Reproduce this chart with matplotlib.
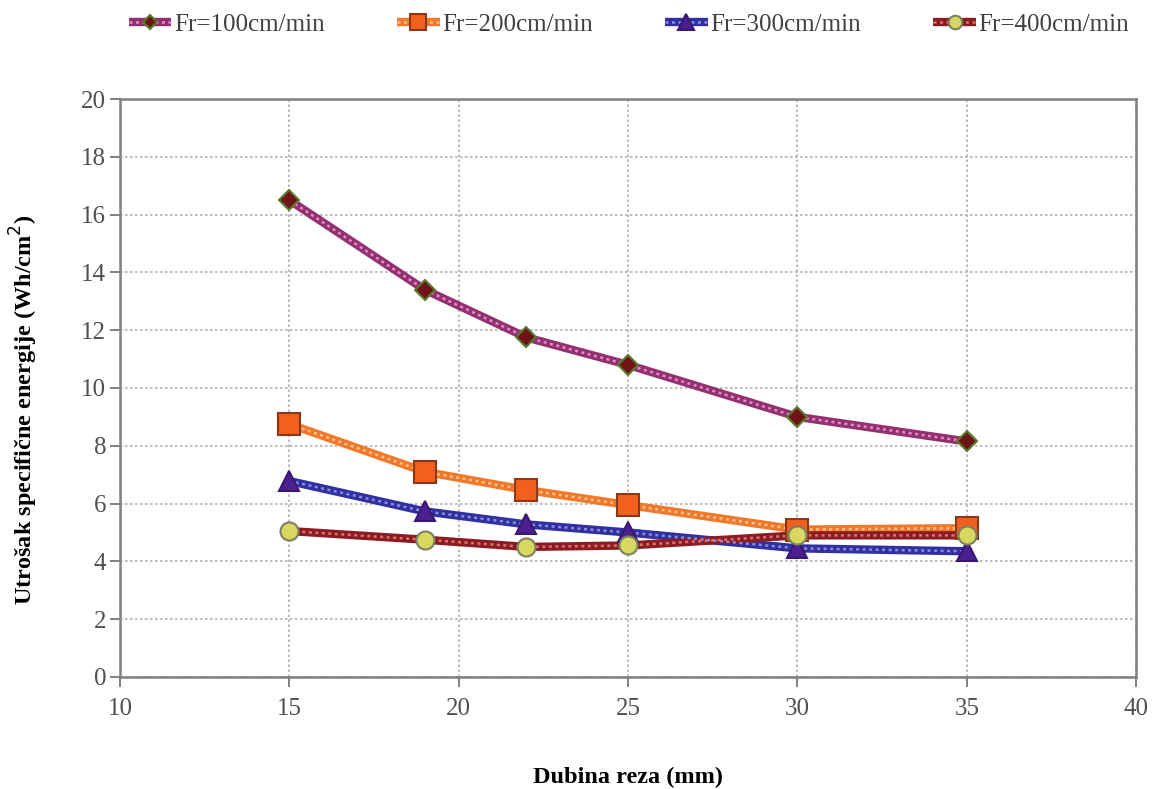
import matplotlib
matplotlib.use("Agg")
import matplotlib.pyplot as plt
from matplotlib.legend_handler import HandlerTuple

plt.rcParams['font.family'] = ['Liberation Serif', 'DejaVu Serif']

depth = [15, 19, 22, 25, 30, 35]
fr100 = [16.5, 13.4, 11.75, 10.8, 9.0, 8.15]
fr200 = [8.75, 7.1, 6.47, 5.95, 5.1, 5.15]
fr300 = [6.78, 5.73, 5.28, 5.0, 4.45, 4.35]
fr400 = [5.05, 4.75, 4.5, 4.55, 4.9, 4.9]
labels = ['Fr=100cm/min', 'Fr=200cm/min', 'Fr=300cm/min', 'Fr=400cm/min']

styles = [
    dict(line='#93306f', over='#e48ac8', marker='D', mfc='#6e1414', mec='#5a7a30', ms=10),
    dict(line='#f0782a', over='#ffc08a', marker='s', mfc='#f2601e', mec='#8a3a18', ms=16),
    dict(line='#3030a0', over='#8a8ae0', marker='^', mfc='#4a2090', mec='#3a1870', ms=15),
    dict(line='#8a1c22', over='#e07070', marker='o', mfc='#d8d860', mec='#7a8060', ms=13),
]

fig = plt.figure(figsize=(11.54, 7.89), dpi=100)
ax = fig.add_axes([0.104, 0.142, 0.8805, 0.7325])

handles = []
for ys, st in zip([fr100, fr200, fr300, fr400], styles):
    base, = ax.plot(depth, ys, color=st['line'], lw=6, solid_capstyle='butt', zorder=3)
    over, = ax.plot(depth, ys, color=st['over'], lw=1.8, ls=(0, (1.2, 1.4)), zorder=4)
    mk, = ax.plot(depth, ys, ls='none', marker=st['marker'], ms=st['ms'],
                  mfc=st['mfc'], mec=st['mec'], mew=1.5, zorder=5)
    handles.append((base, over, mk))

ax.set_xlim(10, 40)
ax.set_ylim(0, 20)
ax.set_xticks([10, 15, 20, 25, 30, 35, 40])
ax.set_yticks(range(0, 21, 2))
ax.grid(True, color='#b0b0b0', ls=(0, (1.5, 1.5)), lw=1.2)
for s in ax.spines.values():
    s.set_color('#808080')
    s.set_linewidth(1.8)
ax.tick_params(colors='#808080', labelcolor='#505050', labelsize=18, length=7, width=1.4)
ax.tick_params(axis='y', pad=3)
ax.tick_params(axis='x', pad=8)

ax.set_xlabel('Dubina reza (mm)', fontsize=17.5, fontweight='bold', labelpad=34)
ax.set_ylabel('Utrošak specifične energije (Wh/cm$^2$)', fontsize=17.5, fontweight='bold')
ax.yaxis.set_label_coords(-0.079, 0.462)

leg = fig.legend(handles, labels, loc='upper center', bbox_to_anchor=(0.545, 1.012), ncol=4,
                 frameon=False, fontsize=18, handlelength=1.7, columnspacing=2.9, handletextpad=0.1,
                 handler_map={tuple: HandlerTuple(ndivide=1)}, markerscale=0.75)
for t in leg.get_texts():
    t.set_color('#404040')

fig.savefig('out.png', dpi=100)
